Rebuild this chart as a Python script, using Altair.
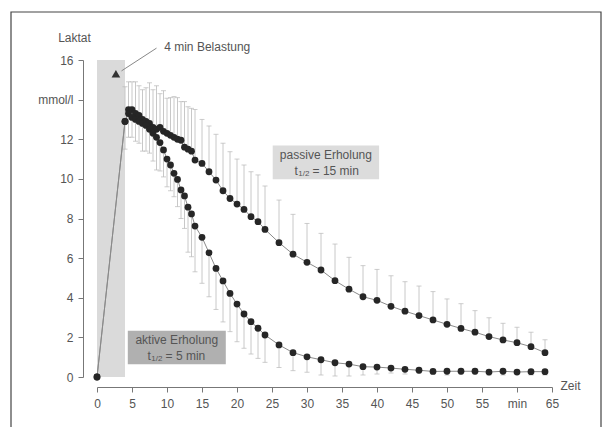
import altair as alt
import pandas as pd

time = [0, 4, 4.5, 5, 5.5, 6, 6.5, 7, 7.5, 8, 8.5, 9, 9.5, 10, 10.5, 11, 11.5, 12, 12.5, 13, 13.5, 14,
        15, 16, 17, 18, 19, 20, 21, 22, 23, 24,
        26, 28, 30, 32, 34, 36, 38, 40, 42, 44, 46, 48, 50, 52, 54, 56, 58, 60, 62, 64]

passive = [0, 12.9, 13.5, 13.5, 13.3, 13.2, 13.0, 12.9, 12.8, 12.6, 12.5, 12.6, 12.4, 12.3, 12.2, 12.1, 12.0, 11.95, 11.6, 11.5, 11.4, 10.95,
           10.78, 10.36, 9.94, 9.4, 9.01, 8.73, 8.46, 8.09, 7.84, 7.45,
           6.78, 6.2, 5.79, 5.4, 4.86, 4.43, 4.05, 3.87, 3.57, 3.32, 3.1, 2.88, 2.66, 2.45, 2.26, 2.04, 1.87, 1.73, 1.53, 1.23]

passive_upper = [None, 14.65, 14.9, 14.9, 14.9, 14.7, 14.5, 14.6, 14.85, 14.5, 14.7, 14.3, 14.45, 14.07, 14.1, 14.15, 14.1, 13.9, 13.9, 13.64, 13.56, 13.5,
                 13.0, 12.67, 12.25, 11.8, 11.37, 11.0, 10.7, 10.36, 10.2, 9.64,
                 8.93, 8.21, 7.75, 7.25, 6.71, 6.04, 5.62, 5.43, 5.11, 4.81, 4.59, 4.31, 3.94, 3.70, 3.35, 2.99, 2.71, 2.51, 2.26, 1.88]

active = [0, 12.9, 13.3, 13.1, 13.0, 12.9, 12.8, 12.7, 12.5, 12.3, 12.1, 11.83, 11.46, 11.0, 10.7, 10.28, 9.97, 9.44, 9.14, 8.57, 8.23, 7.62,
          7.05, 6.27, 5.48, 4.85, 4.22, 3.68, 3.18, 2.79, 2.46, 2.12,
          1.62, 1.23, 1.02, 0.87, 0.72, 0.65, 0.52, 0.5, 0.45, 0.39, 0.34, 0.28, 0.29, 0.29, 0.29, 0.25, 0.29, 0.25, 0.27, 0.27]

active_lower = [None, 11.5, 12.1, 12.1, 11.9, 11.8, 11.4, 11.4, 11.3, 10.9, 10.45, 10.4, 10.1, 9.6, 9.4, 9.1, 8.6, 8.0, 7.5, 6.3, 6.07, 5.31,
                4.73, 4.05, 3.41, 2.78, 2.29, 1.78, 1.45, 1.16, 0.94, 0.74,
                0.48, 0.32, 0.24, 0.1, 0.05, 0.05, 0.1, 0.15, 0.2, 0.15, 0.2, 0.15, 0.1, 0.15, 0.15, 0.1, 0.1, 0.15, 0.1, 0.1]

x_ticks = [0, 5, 10, 15, 20, 25, 30, 35, 40, 45, 50, 55, 60, 65]
y_ticks = [0, 2, 4, 6, 8, 10, 12, 14, 16]

FONT = "Liberation Sans"
TXT = "#555555"

df = pd.DataFrame({
    "t": time * 2,
    "v": passive + active,
    "e": passive_upper + active_lower,
    "s": ["passiv"] * len(time) + ["aktiv"] * len(time),
})
df_err = df.dropna()

xs = alt.Scale(domain=[0, 65], nice=False, zero=False)
ys = alt.Scale(domain=[0, 16], nice=False)

x_axis = alt.Axis(
    values=x_ticks, offset=10, title="Zeit", titleAngle=0, titleX=463, titleY=-2,
    titleAlign="left", titleBaseline="middle", titleFontWeight="normal", titleFontSize=12,
    titleColor=TXT, titleFont=FONT, labelOverlap=False, labelFlush=False, labelPadding=6,
    labelExpr="datum.value == 60 ? 'min' : datum.label")
y_axis = alt.Axis(
    values=y_ticks, offset=14, title="Laktat", titleAngle=0, titleX=-9, titleY=-23,
    titleAlign="center", titleBaseline="middle", titleFontWeight="normal", titleFontSize=12,
    titleColor=TXT, titleFont=FONT, labelOverlap=False, labelFlush=False, labelPadding=5,
    labelExpr="datum.value == 14 ? 'mmol/l' : datum.label")


def X(f="t"):
    return alt.X(f + ":Q", scale=xs, axis=x_axis)


def Y(f="v"):
    return alt.Y(f + ":Q", scale=ys, axis=y_axis)


# load phase shading
load_df = pd.DataFrame({"t": [0], "t2": [4], "v": [0], "v2": [16]})
load = alt.Chart(load_df).mark_rect(color="#dadada").encode(
    x=X(), x2="t2:Q", y=Y(), y2="v2:Q")

err = alt.Chart(df_err).mark_rule(color="#c8c8c8", strokeWidth=1).encode(
    x=X(), y=Y(), y2="e:Q")
caps = alt.Chart(df_err).mark_tick(color="#b8b8b8", thickness=1, size=5, orient="horizontal").encode(
    x=X(), y=Y("e"))

lines = alt.Chart(df).mark_line(color="#8a8a8a", strokeWidth=1).encode(
    x=X(), y=Y(), detail="s:N", order="t:Q")
pts = alt.Chart(df).mark_circle(color="#262626", size=46, opacity=1).encode(
    x=X(), y=Y())

# annotation: 4 min Belastung
tri_df = pd.DataFrame({"t": [2.7], "v": [15.3]})
tri = alt.Chart(tri_df).mark_point(shape="triangle-up", filled=True, color="#333333", size=75, opacity=1).encode(
    x=X(), y=Y())
ann_line_df = pd.DataFrame({"t": [3.5], "v": [15.45], "t2": [8.5], "v2": [16.6]})
ann_line = alt.Chart(ann_line_df).mark_rule(color="#888888", strokeWidth=1).encode(
    x=X(), y=Y(), x2="t2:Q", y2="v2:Q")
ann_txt_df = pd.DataFrame({"t": [9.6], "v": [16.66], "label": ["4 min Belastung"]})
ann_txt = alt.Chart(ann_txt_df).mark_text(align="left", baseline="middle", font=FONT, fontSize=12, color=TXT).encode(
    x=X(), y=Y(), text="label:N")

# boxes
box_df = pd.DataFrame({
    "t": [25.1, 4.4], "t2": [40.3, 18.4], "v": [9.98, 0.64], "v2": [11.68, 2.34],
    "fill": ["#dcdcdc", "#b0b0b0"],
})
boxes = alt.Chart(box_df).mark_rect().encode(
    x=X(), x2="t2:Q", y=Y(), y2="v2:Q", color=alt.Color("fill:N", scale=None))

box_title_df = pd.DataFrame({"t": [32.7, 11.4], "v": [11.2, 1.87], "label": ["passive Erholung", "aktive Erholung"]})
box_title = alt.Chart(box_title_df).mark_text(align="center", baseline="middle", font=FONT, fontSize=12, color=TXT).encode(
    x=X(), y=Y(), text="label:N")

half_t_df = pd.DataFrame({"t": [28.2, 7.2], "v": [10.4, 1.06], "label": ["t", "t"]})
half_t = alt.Chart(half_t_df).mark_text(align="left", baseline="middle", font=FONT, fontSize=12, color=TXT).encode(
    x=X(), y=Y(), text="label:N")
half_sub_df = pd.DataFrame({"t": [28.75, 7.75], "v": [10.26, 0.92], "label": ["1/2", "1/2"]})
half_sub = alt.Chart(half_sub_df).mark_text(align="left", baseline="middle", font=FONT, fontSize=8, color=TXT).encode(
    x=X(), y=Y(), text="label:N")
half_val_df = pd.DataFrame({"t": [30.8, 9.8], "v": [10.4, 1.06], "label": ["= 15 min", "= 5 min"]})
half_val = alt.Chart(half_val_df).mark_text(align="left", baseline="middle", font=FONT, fontSize=12, color=TXT).encode(
    x=X(), y=Y(), text="label:N")

frame = alt.Chart(load_df).mark_rect(fill=None, stroke="#444444", strokeWidth=1.2).encode(
    x=alt.value(-86), x2=alt.value(504), y=alt.value(-48), y2=alt.value(385))

chart = alt.layer(
    load, err, caps, lines, pts, tri, ann_line, ann_txt,
    boxes, box_title, half_t, half_sub, half_val, frame
).properties(
    width=455, height=317,
    autosize=alt.AutoSizeParams(type="none"),
    padding={"left": 97, "top": 60, "right": 51, "bottom": 50},
    background="white",
).configure_view(stroke=None).configure_axis(
    grid=False, domainColor="#777777", tickColor="#777777", labelColor=TXT,
    labelFont=FONT, labelFontSize=12, tickSize=5,
)

chart.save("out.html", embed_options={"renderer": "svg", "actions": False})
